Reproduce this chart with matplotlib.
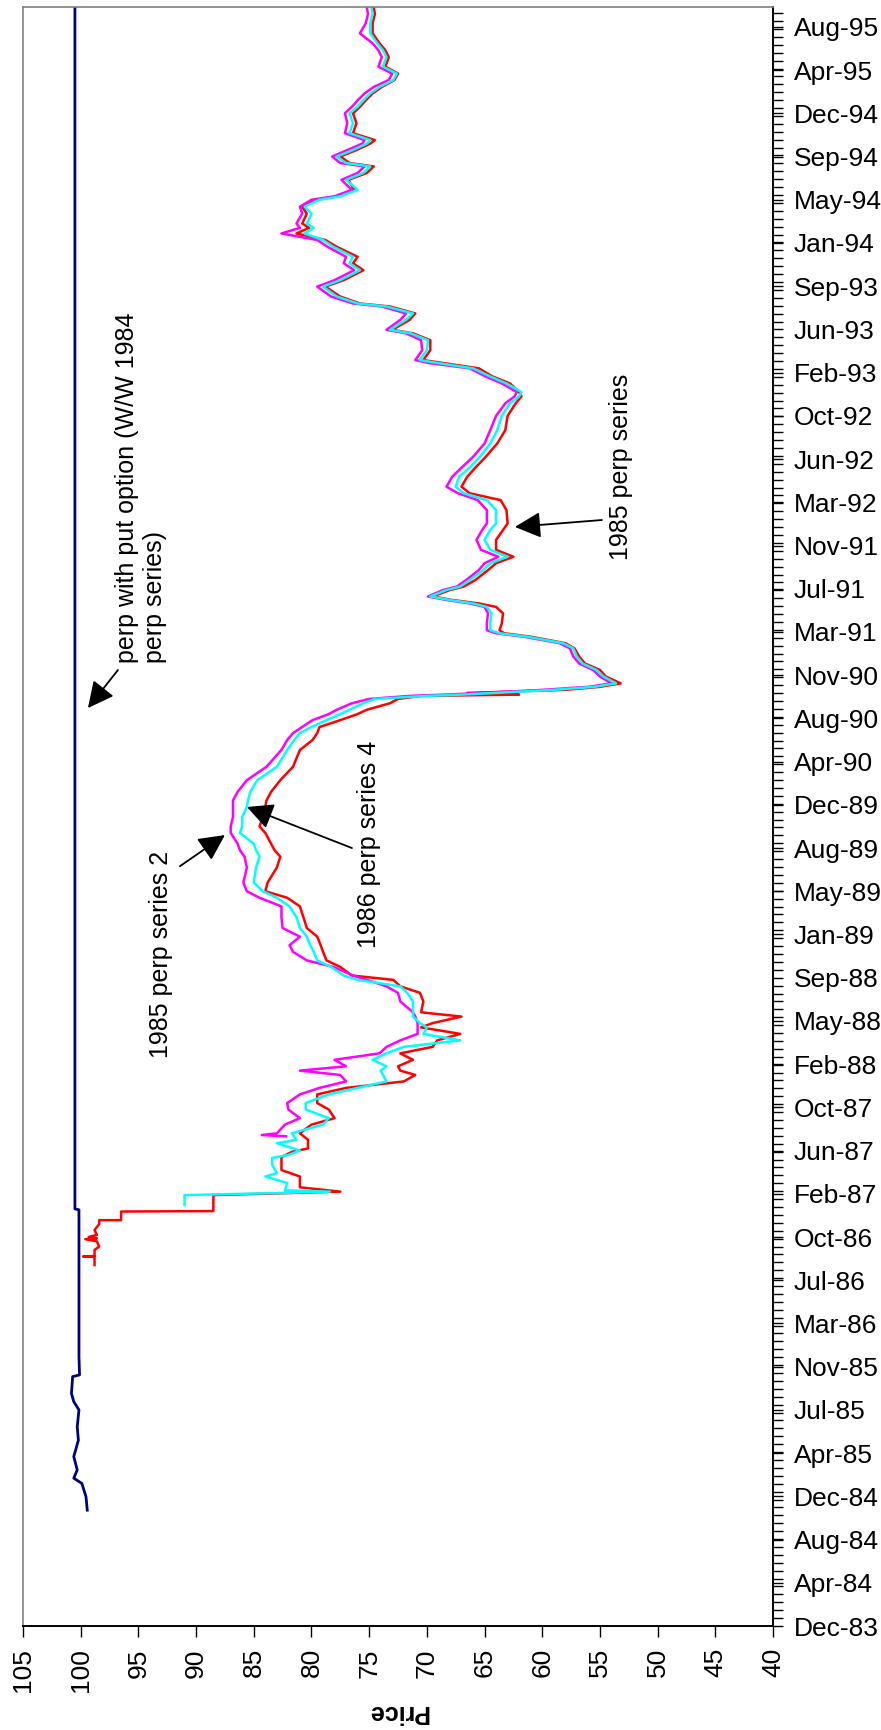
import matplotlib
matplotlib.use("Agg")
import matplotlib.pyplot as plt
from matplotlib.ticker import MultipleLocator

plt.rcParams["font.family"] = ["Liberation Sans", "DejaVu Sans"]

# Date axis: one unit per labelled tick (Dec-83 = 0 ... Aug-95 = 37)
date_labels = ["Dec-83", "Apr-84", "Aug-84", "Dec-84", "Apr-85", "Jul-85", "Nov-85",
               "Mar-86", "Jul-86", "Oct-86", "Feb-87", "Jun-87", "Oct-87", "Feb-88",
               "May-88", "Sep-88", "Jan-89", "May-89", "Aug-89", "Dec-89", "Apr-90",
               "Aug-90", "Nov-90", "Mar-91", "Jul-91", "Nov-91", "Mar-92", "Jun-92",
               "Oct-92", "Feb-93", "Jun-93", "Sep-93", "Jan-94", "May-94", "Sep-94",
               "Dec-94", "Apr-95", "Aug-95"]
price_ticks = [105, 100, 95, 90, 85, 80, 75, 70, 65, 60, 55, 50, 45, 40]

# perp with put option (W/W 1984 perp series)
navy_t = [2.68, 2.99, 3.3, 3.42, 3.61, 3.92, 4.3, 4.61, 5.0, 5.19, 5.38, 5.77, 5.81,
          6.23, 9.63, 9.65, 37.45]
navy_p = [99.43, 99.54, 99.9, 100.6, 100.3, 100.6, 100.2, 100.3, 100.15, 100.6, 100.8,
          100.7, 100.1, 100.15, 100.15, 100.5, 100.5]

# early parts of the three other series
red_head_t = [8.35, 8.55, 8.55, 8.56, 8.7, 8.78, 8.9, 8.95, 8.97, 9.0, 9.05, 9.16, 9.3,
              9.39, 9.39, 9.59, 9.6, 9.97, 10.05, 10.15, 10.4, 10.55, 10.85, 10.97,
              11.05, 11.25]
red_head_p = [98.8, 98.8, 99.8, 98.8, 98.8, 98.4, 98.6, 99.6, 98.6, 99.3, 98.6, 98.8, 98.4,
              98.4, 96.5, 96.5, 88.5, 88.5, 77.5, 81.0, 81.0, 82.6, 82.6, 81.7,
              80.3, 80.3]
cyan_head_t = [9.74, 9.97, 10.02, 10.05, 10.08, 10.25, 10.4, 10.48, 10.67, 10.83, 10.9,
               11.0, 11.17, 11.25]
cyan_head_p = [91.0, 91.0, 82.5, 78.4, 82.3, 82.1, 84.0, 83.0, 83.4, 83.4, 82.0,
               81.0, 83.0, 81.3]
mag_head_t = [11.33, 11.36]
mag_head_p = [82.2, 84.3]

# common time points from Jun-87 onwards
main_t = [11.4, 11.6, 11.75, 11.95, 12.1, 12.3, 12.45, 12.6, 12.75, 12.85,
          12.95, 13.1, 13.25, 13.4, 13.55, 13.7, 13.85, 13.95, 14.1, 14.2,
          14.45, 14.65, 14.8, 14.95, 15.05, 15.25, 15.4, 15.6, 15.75, 15.95,
          16.15, 16.4, 16.65, 16.85, 17.0, 17.2, 17.55, 17.8, 17.95, 18.1,
          18.35, 18.5, 18.72, 18.95, 19.1, 19.3, 19.57, 19.88, 20.27, 20.5,
          20.66, 20.8, 20.96, 21.1, 21.2, 21.35, 21.45, 21.52, 21.55, 21.59,
          21.66, 21.73, 21.81, 21.97, 22.12, 22.27, 22.43, 22.62, 22.74, 22.89,
          22.97, 23.04, 23.2, 23.43, 23.58, 23.66, 23.74, 23.82, 23.97, 24.05,
          24.2, 24.43, 24.59, 24.74, 24.9, 25.13, 25.36, 25.51, 25.82, 26.05,
          26.21, 26.36, 26.59, 26.8, 27.05, 27.36, 27.67, 28.0, 28.29, 28.45,
          28.55, 28.75, 28.91, 29.1, 29.22, 29.29, 29.52, 29.75, 29.91, 29.99,
          30.22, 30.37, 30.53, 30.6, 30.76, 30.99, 31.14, 31.37, 31.53, 31.68,
          31.91, 32.07, 32.22, 32.35, 32.45, 32.68, 32.84, 33.0, 33.08, 33.23,
          33.46, 33.62, 33.77, 33.85, 34.0, 34.15, 34.3, 34.38, 34.54, 34.77,
          35.0, 35.15, 35.3, 35.46, 35.61, 35.77, 35.92, 36.08, 36.3, 36.46,
          36.62, 36.85, 37.08, 37.3, 37.45]

# 1986 perp series 4
cyan_p = [81.7, 79.0, 78.5, 80.5, 80.5, 78.5, 76.0, 73.5, 73.8, 74.0,
          73.5, 74.7, 73.5, 72.0, 67.1, 70.3, 70.0, 70.6, 71.2, 71.2,
          71.2, 71.7, 72.3, 76.0, 77.2, 78.3, 79.5, 79.8, 80.1, 80.4,
          81.0, 81.3, 81.9, 83.0, 84.2, 85.0, 84.8, 84.5, 84.8, 85.0,
          86.2, 86.0, 86.0, 85.6, 85.5, 85.3, 84.7, 83.0, 82.1, 81.5,
          81.0, 80.0, 78.7, 77.5, 76.7, 75.5, 74.5, 70.0, 67.0, 64.0,
          59.0, 55.5, 53.6, 54.7, 55.3, 56.5, 57.0, 57.3, 58.2, 61.3,
          63.7, 64.5, 64.5, 64.4, 64.8, 66.0, 68.0, 69.7, 68.3, 67.1,
          66.3, 65.1, 64.5, 63.0, 64.5, 65.0, 64.5, 64.0, 64.0, 64.8,
          66.8, 67.5, 67.2, 66.3, 65.4, 64.5, 63.9, 63.5, 62.8, 62.0,
          61.8, 63.1, 64.5, 66.0, 69.0, 70.6, 70.0, 69.9, 71.4, 73.2,
          71.8, 71.2, 73.5, 76.0, 77.8, 79.0, 77.5, 75.8, 76.7, 76.4,
          78.1, 79.0, 80.6, 79.8, 80.4, 80.0, 80.6, 79.3, 77.5, 76.0,
          77.0, 75.5, 74.9, 77.0, 77.8, 76.4, 75.2, 74.9, 76.7, 76.4,
          76.7, 76.0, 75.5, 74.9, 74.1, 72.9, 72.6, 73.8, 73.5, 73.8,
          74.3, 74.9, 74.9, 74.7, 74.8]

# 1985 perp series
red_p = [81.0, 80.0, 78.0, 78.5, 79.5, 79.5, 77.0, 72.0, 71.0, 72.3,
         72.5, 71.2, 72.3, 69.5, 69.1, 67.1, 70.5, 69.5, 67.0, 70.5,
         70.3, 70.6, 72.3, 72.9, 76.5, 77.5, 78.7, 79.0, 79.2, 79.5,
         80.4, 80.7, 81.0, 82.1, 84.0, 83.8, 83.0, 82.7, 83.2, 83.5,
         84.0, 84.5, 84.2, 84.0, 83.9, 83.5, 82.7, 81.6, 81.0, 79.9,
         79.5, 79.3, 77.5, 76.0, 75.2, 73.2, 72.5, 70.5, 62.0, 66.5,
         58.0, 55.0, 53.2, 54.5, 55.0, 56.3, 56.8, 57.2, 58.0, 61.0,
         63.3, 63.7, 63.5, 63.4, 64.0, 65.5, 67.8, 69.5, 68.0, 66.8,
         65.8, 64.7, 64.0, 62.5, 64.0, 64.0, 63.4, 63.0, 63.1, 63.6,
         66.3, 67.0, 66.5, 65.8, 64.9, 63.9, 63.2, 63.0, 62.3, 61.8,
         62.0, 62.8, 64.3, 65.5, 68.5, 70.3, 69.7, 69.7, 71.2, 73.0,
         71.5, 71.0, 73.2, 75.8, 77.5, 78.8, 77.2, 75.5, 76.4, 76.0,
         77.8, 78.8, 81.3, 80.2, 80.8, 80.4, 80.8, 79.5, 77.8, 76.3,
         76.8, 75.2, 74.6, 76.7, 77.5, 76.1, 74.9, 74.5, 76.4, 76.1,
         76.4, 75.8, 75.3, 74.7, 73.9, 72.8, 72.5, 73.6, 73.3, 73.6,
         74.1, 74.7, 74.7, 74.5, 74.6]

# 1985 perp series 2
mag_p = [83.0, 82.3, 81.0, 82.0, 82.1, 81.0, 79.3, 77.0, 77.5, 81.0,
         77.0, 78.0, 74.1, 73.5, 72.3, 70.8, 70.8, 70.8, 71.0, 71.2,
         72.3, 72.5, 73.5, 75.2, 76.4, 78.1, 80.4, 81.6, 81.9, 81.0,
         82.5, 82.6, 82.6, 84.5, 85.6, 85.9, 85.6, 85.8, 86.2, 86.4,
         87.0, 87.0, 86.8, 86.8, 86.8, 86.4, 85.6, 83.9, 82.6, 82.1,
         81.6, 80.8, 79.9, 78.5, 77.8, 76.5, 75.0, 71.5, 68.5, 65.0,
         60.0, 56.0, 54.0, 55.0, 55.6, 56.8, 57.3, 57.6, 58.5, 61.6,
         64.0, 64.8, 64.8, 64.7, 65.0, 66.3, 68.3, 69.9, 68.6, 67.4,
         66.6, 65.5, 65.0, 63.8, 65.3, 65.7, 65.2, 64.8, 64.8, 65.6,
         67.3, 68.3, 67.8, 67.0, 66.0, 65.0, 64.5, 64.0, 63.2, 62.4,
         62.2, 63.5, 64.9, 66.3, 69.8, 71.0, 70.4, 70.5, 71.8, 73.5,
         72.3, 71.8, 73.9, 76.4, 78.3, 79.5, 78.0, 76.3, 77.2, 77.0,
         78.6, 79.5, 82.6, 81.0, 81.3, 80.8, 81.0, 80.0, 78.0, 76.5,
         77.4, 76.0, 75.4, 77.5, 78.2, 76.9, 75.6, 75.4, 77.1, 76.9,
         77.1, 76.5, 76.0, 75.4, 74.6, 73.3, 73.0, 74.2, 73.9, 74.2,
         74.7, 75.8, 75.3, 75.1, 75.2]

fig = plt.figure(figsize=(8.81, 17.30), dpi=100)
ax = fig.add_axes([23 / 881, 104 / 1730, 750 / 881, 1619 / 1730])

# Chart is drawn turned on its side: price runs along x, dates up the right side
ax.plot(navy_p, navy_t, color="#000080", lw=2.0)
ax.plot(red_head_p + red_p, red_head_t + main_t, color="#FF0000", lw=1.8)
ax.plot(mag_head_p + mag_p, mag_head_t + main_t, color="#FF00FF", lw=1.8)
ax.plot(cyan_head_p + cyan_p, cyan_head_t + main_t, color="#00FFFF", lw=1.8)

ax.set_xlim(105, 40)
ax.set_ylim(0, 37.46)

ax.set_xticks(price_ticks)
ax.set_xticklabels([str(p) for p in price_ticks], rotation=90, fontsize=19)
ax.tick_params(axis="x", direction="out", length=8, width=1, pad=8)

ax.yaxis.tick_right()
ax.set_yticks(range(len(date_labels)))
ax.set_yticklabels(date_labels, fontsize=19)
ax.yaxis.set_minor_locator(MultipleLocator(15 / 82))
ax.tick_params(axis="y", which="both", direction="out", length=7, width=1, pad=8)

for side in ["left", "top"]:
    ax.spines[side].set_color("#808080")
    ax.spines[side].set_linewidth(1.2)
for side in ["bottom", "right"]:
    ax.spines[side].set_color("black")
    ax.spines[side].set_linewidth(1.4)

fig.text(398 / 881, 18 / 1730, "Price", rotation=180, ha="center", va="center",
         fontsize=18, fontweight="bold")

# annotations
txt = dict(rotation=90, fontsize=18, ha="center", va="bottom")
ax.text(94.77, 22.28, "perp with put option (W/W 1984\nperp series)",
        multialignment="left", **txt)
ax.text(93.04, 13.14, "1985 perp series 2", **txt)
ax.text(75.02, 15.69, "1986 perp series 4", **txt)
ax.text(53.18, 24.66, "1985 perp series", **txt)

arrow = dict(arrowstyle="-|>,head_length=0.4,head_width=0.2", color="black",
             lw=1.3, mutation_scale=40, shrinkA=0, shrinkB=0)
ax.annotate("", xy=(99.37, 21.24), xytext=(96.77, 22.12), arrowprops=arrow)
ax.annotate("", xy=(87.5, 18.3), xytext=(91.4, 17.58), arrowprops=arrow)
ax.annotate("", xy=(85.59, 18.95), xytext=(76.49, 18.0), arrowprops=arrow)
ax.annotate("", xy=(62.37, 25.43), xytext=(54.83, 25.59), arrowprops=arrow)

fig.savefig("out.png", dpi=100)
